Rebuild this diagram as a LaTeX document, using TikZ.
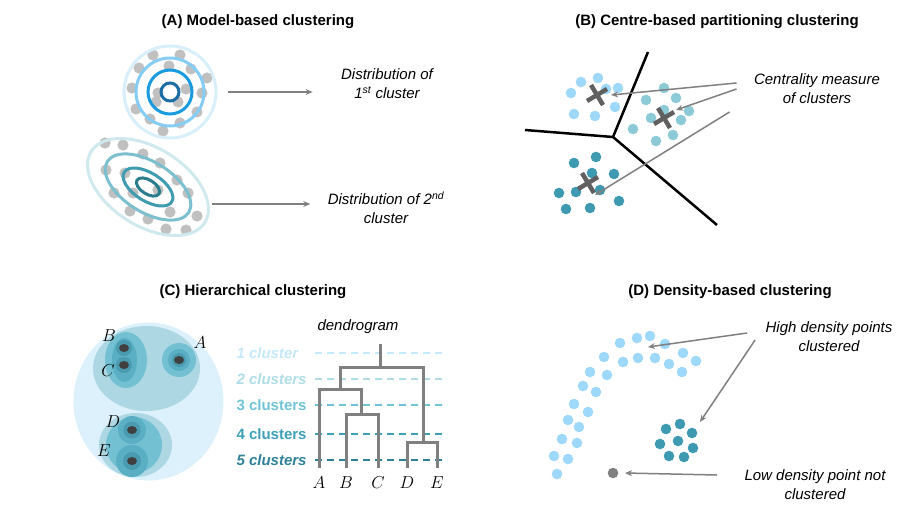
\documentclass[tikz,border=0pt]{standalone}
\usepackage{fontspec}
\setmainfont{Liberation Sans}
\usetikzlibrary{positioning,arrows.meta,shapes.misc}
\definecolor{dotgray}{RGB}{192,192,192}
\definecolor{linkgray}{RGB}{128,128,128}
\definecolor{crossgray}{RGB}{96,96,96}
\definecolor{ringpale}{RGB}{216,239,251}
\definecolor{ringlight}{RGB}{134,205,245}
\definecolor{ringblue}{RGB}{26,155,224}
\definecolor{ringdark}{RGB}{28,110,165}
\definecolor{ovalpale}{RGB}{207,233,239}
\definecolor{ovallight}{RGB}{124,192,207}
\definecolor{ovalteal}{RGB}{63,155,176}
\definecolor{ovaldark}{RGB}{42,125,143}
\definecolor{skyblue}{RGB}{158,216,250}
\definecolor{softteal}{RGB}{140,202,216}
\definecolor{deepteal}{RGB}{61,154,176}
\definecolor{hierbg}{RGB}{220,241,251}
\definecolor{hierone}{RGB}{172,215,227}
\definecolor{hiertwo}{RGB}{114,192,210}
\definecolor{hierthree}{RGB}{90,175,196}
\definecolor{hierfour}{RGB}{74,154,176}
\definecolor{hiercore}{RGB}{64,64,64}
\definecolor{lvlone}{RGB}{197,232,251}
\definecolor{lvltwo}{RGB}{176,220,232}
\definecolor{lvlthree}{RGB}{111,195,214}
\definecolor{lvlfour}{RGB}{62,160,183}
\definecolor{lvlfive}{RGB}{47,129,154}
\tikzstyle{title} = [font=\fontsize{15}{18}\selectfont\bfseries]
\tikzstyle{note} = [font=\fontsize{15}{19}\selectfont\itshape, align=center]
\tikzstyle{link} = [draw=linkgray, line width=1.5pt, -{Stealth[length=7pt,width=6pt]}]
\tikzstyle{ring} = [line width=3pt]
\tikzstyle{border} = [draw=black, line width=2.5pt]
\tikzstyle{centre} = [cross out, draw=crossgray, line width=4.5pt, minimum size=12pt, inner sep=0pt, rotate=-14]
\tikzstyle{dend} = [draw=linkgray, line width=3pt]
\tikzstyle{level} = [dash pattern=on 7pt off 5pt, line width=1.5pt]
\tikzstyle{leaf} = [font=\fontsize{17}{20}\selectfont]

\begin{document}
\begin{tikzpicture}[x=1pt, y=-1pt]
    \useasboundingbox (0,0) rectangle (904,514);

    % (A) model-based
    \node[title] (tita) at (258,22) {(A) Model-based clustering};
    \foreach \x/\y in {153/55,180/55,139/68,169/66,191/69,207/78,132/88,158/93,186/89,
                       202/93,136/109,156/102,178/102,197/112,150/119,180/123,163/131}
        \fill[dotgray] (\x,\y) circle (5.6pt);
    \node[circle, draw=ringpale, ring, minimum size=92pt, inner sep=0pt] (g1) at (170,92) {};
    \draw[ringlight, ring] (g1) circle (34pt);
    \draw[ringblue, ring] (g1) circle (22pt);
    \draw[ringdark, ring] (g1) circle (9pt);
    \foreach \x/\y in {105/143,123/145,143/154,160/163,106/170,125/173,177/180,114/193,
                       133/193,158/190,188/193,130/211,148/219,170/212,197/216,166/229,186/230}
        \fill[dotgray] (\x,\y) circle (5.6pt);
    \coordinate (g2) at (148,187);
    \draw[ovalpale, ring, rotate around={-32:(g2)}] (g2) ellipse (67pt and 39pt);
    \draw[ovallight, ring, rotate around={-32:(g2)}] (g2) ellipse (48pt and 25pt);
    \draw[ovalteal, ring, rotate around={-32:(g2)}] (g2) ellipse (28pt and 14pt);
    \draw[ovaldark, ring, rotate around={-32:(g2)}] (g2) ellipse (13pt and 7pt);
    \node[note] (dist1) at (387,84) {Distribution of\\1\textsuperscript{st} cluster};
    \node[note] (dist2) at (386,208) {Distribution of 2\textsuperscript{nd}\\cluster};
    \draw[link] ([xshift=10pt]g1.east) -- ([xshift=-25pt]dist1.west |- g1.east);
    \draw[link] ([shift={(64,17)}]g2) -- ([xshift=-14pt]dist2.west |- 0,204);

    % (B) centre-based
    \node[title] (titb) at (717,22) {(B) Centre-based partitioning clustering};
    \coordinate (mid) at (613,137);
    \draw[border] (648,52) -- (mid) -- (525,130);
    \draw[border] (mid) -- (717,225);
    \foreach \x/\y in {581/82,598/78,571/93,606/89,618/88,615/107,574/114,595/116}
        \fill[skyblue] (\x,\y) circle (5.3pt);
    \foreach \x/\y in {664/88,646/100,676/98,664/110,651/118,689/111,681/120,633/129,673/135,656/141}
        \fill[softteal] (\x,\y) circle (5.3pt);
    \foreach \x/\y in {574/163,596/157,592/173,614/174,559/193,576/192,600/190,619/201,566/209,590/208}
        \fill[deepteal] (\x,\y) circle (5.3pt);
    \node[centre] (cen1) at (597,95) {};
    \node[centre] (cen2) at (664,118) {};
    \node[centre] (cen3) at (588,183) {};
    \node[note] (cm) at (817,89) {Centrality measure\\of clusters};
    \draw[link] ([shift={(-14,-6)}]cm.west) -- ([xshift=14pt]cen1.center);
    \draw[link] ([xshift=-14pt]cm.west) -- ([shift={(12,-8)}]cen2.center);
    \draw[link] ([shift={(-21,23)}]cm.west) -- ([shift={(7,12)}]cen3.center);

    % (C) hierarchical
    \node[title] (titc) at (253,292) {(C) Hierarchical clustering};
    \fill[hierbg] (148.5,401.5) ellipse (75pt and 79pt);
    \fill[hierone] (146.5,368.5) ellipse (53.5pt and 42.5pt);
    \fill[hierone] (135.5,445) ellipse (36.5pt and 32pt);
    \fill[hiertwo] (134,445) circle (28pt);
    \fill[hiertwo] (126,360) ellipse (21pt and 28pt);
    \fill[hierthree] (124.5,360) ellipse (12.5pt and 22pt);
    \foreach \x/\y in {124/348,124/365} {
        \fill[hierfour] (\x,\y) circle (8pt);
        \fill[hiercore] (\x,\y) ellipse (5pt and 4pt);
    }
    \fill[hiertwo] (179,360) circle (17pt);
    \fill[hierthree] (179,360) circle (11pt);
    \fill[hierfour] (179,360) circle (7pt);
    \fill[hiercore] (179,360) ellipse (5pt and 4pt);
    \fill[hierthree] (132,430) circle (14pt);
    \fill[hierfour] (132,430) circle (8.5pt);
    \fill[hiercore] (132,430) ellipse (5pt and 4pt);
    \fill[hierthree] (132,461) circle (16pt);
    \fill[hierfour] (132,461) circle (9pt);
    \fill[hiercore] (132,461) ellipse (5pt and 4pt);
    \foreach \n/\x/\y in {A/200/343,B/109/336,C/108/371,D/113/422,E/104/451}
        \node[leaf] (pt\n) at (\x,\y) {$\n$};

    \node[note] (dendro) at (358,327) {dendrogram};
    \foreach \i/\txt/\col/\shp/\y in {1/1 cluster/lvlone/\itshape/353,2/2 clusters/lvltwo/\itshape/379,
                                     3/3 clusters/lvlthree//405,4/4 clusters/lvlfour//434,5/5 clusters/lvlfive/\itshape/460} {
        \node[title, text=\col, font=\fontsize{15}{18}\selectfont\bfseries\shp, anchor=west] (lvl\i) at (233,\y) {\txt};
        \draw[level, draw=\col] (315,\y) -- (447,\y);
    }
    \draw[dend] (319,468) |- (361,389) -- (361,414);
    \draw[dend] (346,468) |- (378,414) -- (378,468);
    \draw[dend] (340,389) |- (423,367) -- (423,442);
    \draw[dend] (407,468) |- (437,442) -- (437,468);
    \draw[dend] (380,367) -- (380,344);
    \foreach \n/\x in {A/319,B/346,C/378,D/407,E/437}
        \node[leaf] (leaf\n) at (\x,483) {$\n$};

    % (D) density-based
    \node[title] (titd) at (730,292) {(D) Density-based clustering};
    \foreach \x/\y in {620/343,637/338,650/336,665/344,683/353,696/361,604/357,623/362,638/358,
                       655/358,669/364,682/372,590/372,607/375,583/386,596/392,574/404,588/412,
                       568/420,579/427,562/439,577/443,554/456,568/459,557/474}
        \fill[skyblue] (\x,\y) circle (5.3pt);
    \foreach \x/\y in {666/429,680/424,692/433,660/444,678/441,693/448,669/456,684/457}
        \fill[deepteal] (\x,\y) circle (5.3pt);
    \node[circle, fill=linkgray, minimum size=10.6pt, inner sep=0pt] (noise) at (613,473) {};
    \node[note] (high) at (829,337) {High density points\\clustered};
    \node[note] (low) at (815,485) {Low density point not\\clustered};
    \draw[link] ([shift={(-15,-4)}]high.west) -- (648,347);
    \draw[link] ([shift={(-7,3)}]high.west) -- (700,422);
    \draw[link] ([shift={(-24,-10)}]low.west) -- ([xshift=12pt]noise.center);
\end{tikzpicture}
\end{document}
